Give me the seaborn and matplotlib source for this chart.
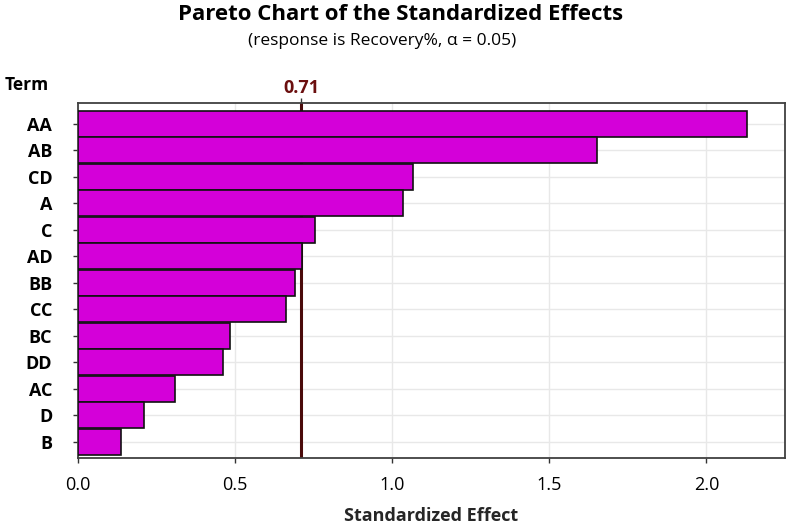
import matplotlib
matplotlib.use("Agg")
import matplotlib.pyplot as plt
import seaborn as sns
import pandas as pd

terms = ["AA", "AB", "CD", "A", "C", "AD", "BB", "CC", "BC", "DD", "AC", "D", "B"]
effects = [2.13, 1.653, 1.067, 1.035, 0.755, 0.713, 0.69, 0.662, 0.484, 0.463, 0.31, 0.21, 0.138]
critical = 0.71
xticks = [0.0, 0.5, 1.0, 1.5, 2.0]

df = pd.DataFrame({"Term": terms, "Effect": effects})

sns.set_theme(style="white")
plt.rcParams['font.family'] = ['Open Sans', 'DejaVu Sans']
plt.rcParams['text.color'] = 'black'
plt.rcParams['xtick.color'] = 'black'
plt.rcParams['ytick.color'] = 'black'

fig = plt.figure(figsize=(7.89, 5.25), dpi=100)
ax_h = (458 - 103) / 525
ax = fig.add_axes([78/789, 1 - 458/525, (785-78)/789, ax_h])

ax.axvline(critical, color="#4a0a0a", lw=2.2, zorder=1)
sns.barplot(data=df, x="Effect", y="Term", order=terms, color="#D400D9",
            saturation=1, edgecolor="#111111", linewidth=1.2, width=0.98, ax=ax, zorder=3)

ax.set_xlim(0, 2.25)
ax.set_ylim(12.61, -0.79)
ax.set_xticks(xticks)
ax.set_xticklabels([f"{v:.1f}" for v in xticks], fontsize=13)
ax.set_yticks(range(len(terms)))
ax.set_yticklabels(terms, fontsize=13, fontweight="bold")
ax.grid(True, color="#e8e8e8", lw=1, zorder=0)
ax.set_axisbelow(True)
ax.tick_params(axis="both", which="both", direction="out", length=3.6, width=1,
               color="#333333", bottom=True, left=True)
ax.tick_params(axis="x", pad=9)
ax.tick_params(axis="y", pad=15)
for s in ax.spines.values():
    s.set_color("#404040")
    s.set_linewidth(1.3)

ax.set_xlabel("Standardized Effect", fontsize=13, fontweight="bold", va="center")
ax.xaxis.set_label_coords(0.5, (458 - 516) / 355)
ax.set_ylabel("")

# top tick for critical value
sec = ax.secondary_xaxis("top")
sec.set_xticks([critical])
sec.set_xticklabels([f"{critical:.2f}"], color="#6b0f0f", fontweight="bold", fontsize=13)
sec.tick_params(direction="out", length=3.6, width=1, color="#333333", pad=0.5)
sec.spines["top"].set_visible(False)

fig.text(5/789, 1 - 85/525, "Term", fontsize=12.5, fontweight="bold", ha="left", va="center")
fig.text(401/789, 1 - 15/525, "Pareto Chart of the Standardized Effects", fontsize=16,
         fontweight="bold", ha="center", va="center")
fig.text(382/789, 1 - 41/525, "(response is Recovery%, α = 0.05)", fontsize=12.5,
         ha="center", va="center")

fig.savefig("out.png", dpi=100)
